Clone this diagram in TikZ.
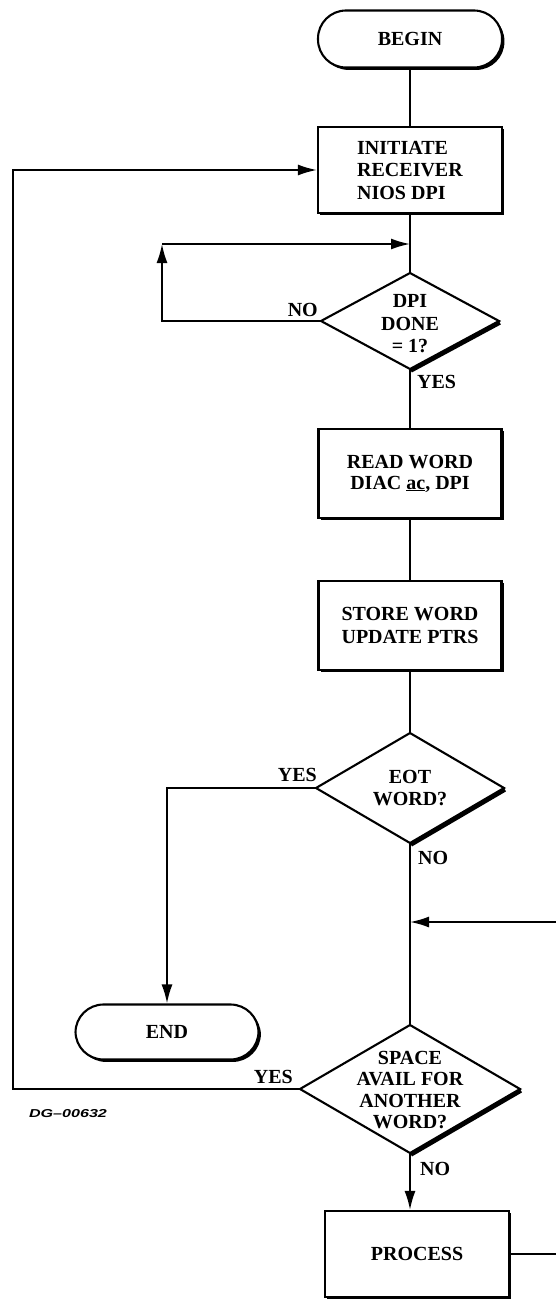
\documentclass[tikz,border=0pt]{standalone}
\usepackage{fontspec}
\usepackage{graphicx}
\setmainfont{Liberation Serif}
\newfontfamily\dgfont{Liberation Sans}
\usetikzlibrary{shapes.geometric,arrows.meta,shadows,calc}
\begin{document}
\begin{tikzpicture}[x=1pt,y=-1pt,
  font=\bfseries\fontsize{20}{22.5}\selectfont,
  line/.style={line width=1.9pt},
  arr/.style={line width=1.9pt, -{Latex[length=19pt,width=11pt]}},
  shad/.style={drop shadow={shadow xshift=2.4pt,shadow yshift=-2.4pt,opacity=1,fill=black}},
  procbox/.style={draw, line width=2.1pt, fill=white, shad, rectangle, minimum width=184pt, minimum height=87pt, inner sep=0pt},
  term/.style={draw, line width=2.1pt, fill=white, shad, rectangle, rounded corners=28pt, minimum width=184pt, minimum height=57pt, inner sep=0pt},
  dia/.style={draw, line width=2.1pt, diamond, fill=white, inner sep=0pt, outer sep=0pt},
  lbl/.style={inner sep=0pt},
  diashad/.style={line width=4pt},
]
\useasboundingbox (0,0) rectangle (556,1300);
\clip (0,0) rectangle (556,1300);

% nodes
\node[term] (begin) at (410,39) {BEGIN};
\node[procbox, align=left, minimum height=86pt] (init) at (410,170) {INITIATE\\RECEIVER\\NIOS DPI};
\node[dia, minimum width=178pt, minimum height=96pt,
      label={[align=center,inner sep=0pt,yshift=-3pt]center:DPI\\DONE\\= 1?}] (dpi) at (410,321) {};
\node[procbox, align=center, minimum width=183pt, minimum height=89pt, font=\bfseries\fontsize{20}{21}\selectfont] (read) at (410,473.5) {READ WORD\\DIAC \underline{ac}, DPI};
\node[procbox, align=center, minimum width=183pt, minimum height=89pt] (store) at (410,625.5) {STORE WORD\\UPDATE PTRS};
\node[dia, minimum width=188pt, minimum height=110pt,
      label={[align=center,inner sep=0pt]center:EOT\\WORD?}] (eot) at (410,788) {};
\node[term, minimum width=183pt, minimum height=55pt] (end) at (167,1032) {END};
\node[dia, minimum width=220pt, minimum height=128pt,
      label={[align=center,inner sep=0pt,yshift=-1pt,font=\bfseries\fontsize{20}{21.5}\selectfont]center:SPACE\\AVAIL FOR\\ANOTHER\\WORD?}] (space) at (410,1089) {};
\node[procbox, minimum width=184pt, minimum height=86pt] (proc) at (417,1254) {PROCESS};

% diamond shadows
\draw[diashad] ($(dpi.east)+(0.9,1.7)$) -- ($(dpi.south)+(0.9,1.7)$);
\draw[diashad] ($(eot.east)+(1,1.7)$) -- ($(eot.south)+(1,1.7)$);
\draw[diashad] ($(space.east)+(1,1.7)$) -- ($(space.south)+(1,1.7)$);

% labels
\node[lbl, anchor=south east] (no1) at ($(dpi.west)+(-3,-4)$) {NO};
\node[lbl, anchor=north west] (yes1) at ($(dpi.south)+(7,6)$) {YES};
\node[lbl, anchor=south east] (yes2) at ($(eot.west)+(1,-6)$) {YES};
\node[lbl, anchor=north west] (no2) at ($(eot.south)+(8,8)$) {NO};
\node[lbl, anchor=south east] (yes3) at ($(space.west)+(-7,-5)$) {YES};
\node[lbl, anchor=north west] (no3) at ($(space.south)+(10,9)$) {NO};
\node[lbl] (dg) at (68,1114) {\dgfont\bfseries\itshape\fontsize{11.5}{12}\selectfont\scalebox{1.4}[1]{DG–00632}};

% coordinates
\coordinate (j1) at (410,244);
\coordinate (l1) at (162,244);
\coordinate (j2) at (410,922);
\coordinate (lb) at (13,1090);
\coordinate (rx) at (580,1250);

% connectors
\draw[line] (begin) -- (init);
\draw[line] (init) -- (dpi);
\draw[arr] (dpi.west) -| (l1);
\draw[arr] (l1) -- (j1);
\draw[line] (dpi) -- (read);
\draw[line] (read) -- (store);
\draw[line] (store) -- (eot);
\draw[arr] (eot.west) -| (end.north);
\draw[line] (eot.south) -- (space.north);
\draw[arr] (space.west) -- (space.west -| lb) |- (init.west);
\draw[arr] (space.south) -- (space.south |- proc.north);
\draw[arr] (proc.east) -- (proc.east -| rx) |- (j2);
\end{tikzpicture}
\end{document}
